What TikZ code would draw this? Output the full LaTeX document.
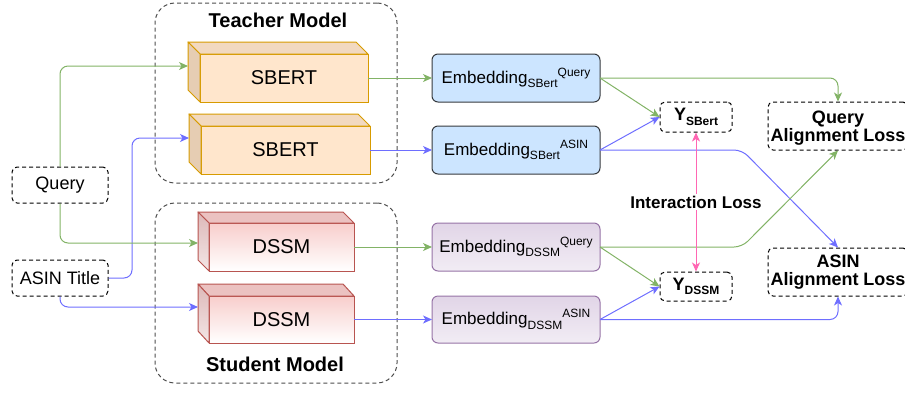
\documentclass[tikz,border=0pt]{standalone}
\usepackage{fontspec}
\setmainfont{Liberation Sans}
\usetikzlibrary{arrows.meta,calc}
\definecolor{cgreen}{HTML}{82B366}
\definecolor{cblue}{HTML}{6E6EFF}
\definecolor{cpink}{HTML}{FF66B3}
\definecolor{sbfront}{HTML}{FFE6CC}
\definecolor{sbtop}{HTML}{F2D9C0}
\definecolor{sbside}{HTML}{E6CDB3}
\definecolor{sbline}{HTML}{D79B00}
\definecolor{dsfront}{HTML}{F8CECC}
\definecolor{dstop}{HTML}{EBC2C1}
\definecolor{dsside}{HTML}{DDB8B8}
\definecolor{dsline}{HTML}{B85450}
\definecolor{ebblue}{HTML}{CCE5FF}
\definecolor{ebline}{HTML}{36393D}
\definecolor{eppurple}{HTML}{E1D5E7}
\definecolor{epline}{HTML}{9673A6}
\definecolor{cdash}{HTML}{4D4D4D}
\newcommand\myfs[1]{\fontsize{#1}{#1}\selectfont}
\newcommand\embtxt[2]{Embedding\raisebox{-4.5pt}{\myfs{12}#1}\raisebox{7pt}{\myfs{12}#2}}
\tikzset{
  container/.style={draw=cdash, dash pattern=on 4pt off 3pt, rounded corners=20pt, line width=1pt},
  title/.style={font=\bfseries\myfs{20}},
  dbox/.style={draw=black, dash pattern=on 4pt off 3pt, rounded corners=5pt, line width=1pt, align=center, inner sep=0pt},
  sbfacebox/.style={draw=sbline, line width=1pt, fill=sbfront, outer sep=0pt, minimum height=48pt, font=\myfs{20}},
  sbface/.style={draw=sbline, line width=1pt, line join=round},
  dsfacebox/.style={draw=dsline, line width=1pt, top color=dsfront, bottom color=white, outer sep=0pt, minimum width=145pt, minimum height=48pt, font=\myfs{20}},
  dsface/.style={draw=dsline, line width=1pt, line join=round},
  ebbox/.style={draw=ebline, line width=1pt, fill=ebblue, rounded corners=6pt, minimum width=168pt, minimum height=48pt, outer sep=0pt, font=\myfs{17}},
  epbox/.style={draw=epline, line width=1pt, top color=eppurple, bottom color=eppurple!45, rounded corners=6pt, minimum width=168pt, minimum height=48pt, outer sep=0pt, font=\myfs{17}},
  arr/.style={line width=1pt, -{Stealth[length=9pt,width=8pt,inset=2.5pt]}, rounded corners=8pt},
  garr/.style={arr, draw=cgreen, color=cgreen},
  barr/.style={arr, draw=cblue, color=cblue},
}
\begin{document}
\begin{tikzpicture}[x=1pt,y=-1pt]
\useasboundingbox (0,0) rectangle (905,392);
% containers
\node[container, minimum width=242pt, minimum height=180pt] (teacher) at (276,93) {};
\node[title] (teacherlbl) at (278,20) {Teacher Model};
\node[container, minimum width=242pt, minimum height=180pt] (student) at (276,293) {};
\node[title] (studentlbl) at (275,364) {Student Model};
% inputs
\node[dbox, minimum width=96pt, minimum height=36pt, font=\myfs{18}] (query) at (60,185) {Query};
\node[dbox, minimum width=96pt, minimum height=36pt, font=\myfs{18}] (asin) at (60,278) {ASIN Title};
% SBERT cuboids
\node[sbfacebox, minimum width=168pt] (sb1) at (284,78) {SBERT};
\draw[sbface, fill=sbtop] (sb1.north west) -- ([shift={(-12,-12)}]sb1.north west) -- ([shift={(-12,-12)}]sb1.north east) -- (sb1.north east) -- cycle;
\draw[sbface, fill=sbside] (sb1.north west) -- ([shift={(-12,-12)}]sb1.north west) -- ([shift={(-12,-12)}]sb1.south west) -- (sb1.south west) -- cycle;
\node[sbfacebox, minimum width=169pt] (sb2) at (285.5,150) {SBERT};
\draw[sbface, fill=sbtop] (sb2.north west) -- ([shift={(-12,-12)}]sb2.north west) -- ([shift={(-12,-12)}]sb2.north east) -- (sb2.north east) -- cycle;
\draw[sbface, fill=sbside] (sb2.north west) -- ([shift={(-12,-12)}]sb2.north west) -- ([shift={(-12,-12)}]sb2.south west) -- (sb2.south west) -- cycle;
% DSSM cuboids
\node[dsfacebox] (ds1) at (281.5,247) {DSSM};
\draw[dsface, fill=dstop] (ds1.north west) -- ([shift={(-11,-11)}]ds1.north west) -- ([shift={(-11,-11)}]ds1.north east) -- (ds1.north east) -- cycle;
\draw[dsface, top color=dsside, bottom color=dsside!35] (ds1.north west) -- ([shift={(-11,-11)}]ds1.north west) -- ([shift={(-11,-11)}]ds1.south west) -- (ds1.south west) -- cycle;
\node[dsfacebox, minimum height=47pt] (ds2) at (281.5,319.5) {DSSM};
\draw[dsface, fill=dstop] (ds2.north west) -- ([shift={(-11,-12)}]ds2.north west) -- ([shift={(-11,-12)}]ds2.north east) -- (ds2.north east) -- cycle;
\draw[dsface, top color=dsside, bottom color=dsside!35] (ds2.north west) -- ([shift={(-11,-12)}]ds2.north west) -- ([shift={(-11,-12)}]ds2.south west) -- (ds2.south west) -- cycle;
% input points on cuboid side faces
\coordinate (sb1in) at (188,66);
\coordinate (sb2in) at (189,138);
\coordinate (ds1in) at (198,243);
\coordinate (ds2in) at (198,307);
% embeddings
\node[ebbox] (e1) at (516,78) {\embtxt{SBert}{Query}};
\node[ebbox] (e2) at (516,150) {\embtxt{SBert}{ASIN}};
\node[epbox] (e3) at (516,247) {\embtxt{DSSM}{Query}};
\node[epbox, minimum height=47pt] (e4) at (516,319.5) {\embtxt{DSSM}{ASIN}};
% outputs
\node[dbox, minimum width=72pt, minimum height=30pt, font=\bfseries\myfs{18}] (ys) at (696,117) {Y\raisebox{-4.5pt}{\myfs{12}SBert}};
\node[dbox, minimum width=72pt, minimum height=29pt, font=\bfseries\myfs{18}] (yd) at (696,286.5) {Y\raisebox{-4.5pt}{\myfs{12}DSSM}};
\node[dbox, minimum width=140pt, minimum height=48pt, font=\bfseries\myfs{18}, text depth=0pt] (qa) at (838,126) {\fontsize{18}{22}\selectfont Query\\Alignment Loss};
\node[dbox, minimum width=140pt, minimum height=48pt, font=\bfseries\myfs{18}] (aa) at (838,272) {\fontsize{18}{22}\selectfont ASIN\\Alignment Loss};
% input connectors
\draw[garr] (query.north) -- (60,66) -- (sb1in);
\draw[barr] (asin.east) -- (132,278) -- (132,138) -- (sb2in);
\draw[garr] (query.south) -- (60,243) -- (ds1in);
\draw[barr] (asin.south) -- (60,307) -- (ds2in);
% model to embedding
\draw[garr] (sb1.east) -- (e1.west);
\draw[barr] (sb2.east) -- (e2.west);
\draw[garr] (ds1.east) -- (e3.west);
\draw[barr] (ds2.east |- e4.west) -- (e4.west);
% embeddings to outputs
\draw[garr] (e1.east) -- (838,78) -- (qa.north);
\draw[garr] (e1.east) -- (ys.west);
\draw[barr] (e2.east) -- (ys.west);
\draw[barr] (e2.east) -- (742,150) -- (aa.north);
\draw[garr] (e3.east) -- (742,247) -- (qa.south);
\draw[garr] (e3.east) -- (yd.west);
\draw[barr] (e4.east) -- (yd.west);
\draw[barr] (e4.east) -- (838,319.5) -- (aa.south);
% interaction loss
\draw[draw=cpink, color=cpink, line width=1pt, {Stealth[length=9pt,width=8pt,inset=2.5pt]}-{Stealth[length=9pt,width=8pt,inset=2.5pt]}] (ys.south) -- (yd.north);
\node[fill=white, inner sep=2pt, font=\bfseries\myfs{17}] (ilbl) at (696,202) {Interaction Loss};
\end{tikzpicture}
\end{document}
